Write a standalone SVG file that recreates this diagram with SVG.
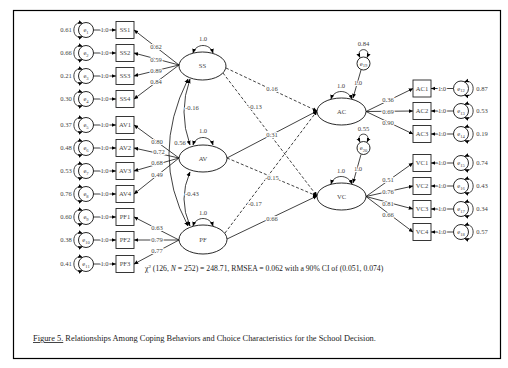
<svg xmlns="http://www.w3.org/2000/svg" width="508" height="368" viewBox="0 0 508 368">
<style>
.t{font-family:"Liberation Serif",serif;font-size:6.6px;fill:#444;text-anchor:middle}
.h{stroke:#fff;stroke-width:2.2px;paint-order:stroke;stroke-linejoin:round}
.ln{stroke:#111;stroke-width:0.8;fill:none}
.da{stroke-dasharray:3,2}
.bx{fill:#fff;stroke:#222;stroke-width:0.9}
.el{fill:#fff;stroke:#111;stroke-width:0.9}
.sub{font-size:4.6px}
</style>
<defs>
<marker id="a" viewBox="0 0 8 8" refX="7.5" refY="4" markerWidth="4.5" markerHeight="4.5" orient="auto-start-reverse" markerUnits="userSpaceOnUse">
<path d="M0,0.5 L8,4 L0,7.5 z" fill="#000"/>
</marker>
</defs>
<rect x="13.5" y="10.5" width="487" height="348" fill="#fff" stroke="#000" stroke-width="1.2"/>

<g id="connectors">
<path class="ln" marker-end="url(#a)" d="M179,65 L134,30"/>
<path class="ln" marker-end="url(#a)" d="M179,65 L134,53"/>
<path class="ln" marker-end="url(#a)" d="M179,65 L134,76"/>
<path class="ln" marker-end="url(#a)" d="M179,65 L134,99"/>
<path class="ln" marker-end="url(#a)" d="M179,158 L134,125"/>
<path class="ln" marker-end="url(#a)" d="M179,158 L134,148"/>
<path class="ln" marker-end="url(#a)" d="M179,158 L134,171"/>
<path class="ln" marker-end="url(#a)" d="M179,158 L134,194"/>
<path class="ln" marker-end="url(#a)" d="M179,240 L134,217"/>
<path class="ln" marker-end="url(#a)" d="M179,240 L134,240"/>
<path class="ln" marker-end="url(#a)" d="M179,240 L134,264"/>
<path class="ln" marker-end="url(#a)" d="M366,111.5 L413,88.5"/>
<path class="ln" marker-end="url(#a)" d="M366,111.5 L413,111"/>
<path class="ln" marker-end="url(#a)" d="M366,111.5 L413,134"/>
<path class="ln" marker-end="url(#a)" d="M366,196.5 L413,163"/>
<path class="ln" marker-end="url(#a)" d="M366,196.5 L413,186"/>
<path class="ln" marker-end="url(#a)" d="M366,196.5 L413,209"/>
<path class="ln" marker-end="url(#a)" d="M366,196.5 L413,232"/>
<path class="ln da" marker-end="url(#a)" d="M226,68 L317,111"/>
<path class="ln da" marker-end="url(#a)" d="M223,73 L317,196"/>
<path class="ln" marker-end="url(#a)" d="M227,158 L317,111"/>
<path class="ln da" marker-end="url(#a)" d="M227,158 L317,196"/>
<path class="ln da" marker-end="url(#a)" d="M225,233 L317,111"/>
<path class="ln" marker-end="url(#a)" d="M227,239 L317,196"/>
<path class="ln" marker-start="url(#a)" marker-end="url(#a)" d="M190,79 Q178,112 190,145"/>
<path class="ln" marker-start="url(#a)" marker-end="url(#a)" d="M188,79 Q150,155 188,226"/>
<path class="ln" marker-start="url(#a)" marker-end="url(#a)" d="M190,172 Q178,199 190,226"/>
<path class="ln" marker-start="url(#a)" marker-end="url(#a)" d="M193,53 C196,43 210,43 213,53"/>
<path class="ln" marker-start="url(#a)" marker-end="url(#a)" d="M193,145 C196,135 210,135 213,145"/>
<path class="ln" marker-start="url(#a)" marker-end="url(#a)" d="M193,226 C196,216 210,216 213,226"/>
<path class="ln" marker-start="url(#a)" marker-end="url(#a)" d="M331,99 C334,89 348,89 352,99"/>
<path class="ln" marker-start="url(#a)" marker-end="url(#a)" d="M331,184 C334,174 348,174 352,184"/>
<path class="ln" marker-end="url(#a)" d="M361,70 L353,98"/>
<path class="ln" marker-end="url(#a)" d="M361,154.5 L353,183"/>
</g>

<g id="path-labels">
<text class="t h" x="156" y="49">0.62</text>
<text class="t h" x="156" y="61.5">0.59</text>
<text class="t h" x="156" y="73">0.89</text>
<text class="t h" x="156" y="84">0.84</text>
<text class="t h" x="157" y="143.5">0.80</text>
<text class="t h" x="159" y="154">0.72</text>
<text class="t h" x="157" y="165">0.68</text>
<text class="t h" x="157" y="177">0.49</text>
<text class="t h" x="157" y="230">0.63</text>
<text class="t h" x="157" y="242">0.79</text>
<text class="t h" x="157" y="253">0.77</text>
<text class="t h" x="388" y="101.5">0.36</text>
<text class="t h" x="388" y="114">0.69</text>
<text class="t h" x="388" y="124.5">0.90</text>
<text class="t h" x="388" y="182">0.51</text>
<text class="t h" x="388" y="193.5">0.76</text>
<text class="t h" x="388" y="206">0.81</text>
<text class="t h" x="388" y="216.5">0.66</text>
<text class="t h" x="272" y="90.5">0.16</text>
<text class="t h" x="255" y="108.5">-0.13</text>
<text class="t h" x="272" y="136.5">0.31</text>
<text class="t h" x="272" y="179.5">-0.15</text>
<text class="t h" x="255" y="205.5">-0.17</text>
<text class="t h" x="272" y="220.5">0.66</text>
<text class="t h" x="192" y="109.5">-0.16</text>
<text class="t h" x="180" y="144.5">0.56</text>
<text class="t h" x="192" y="195.5">-0.43</text>
<text class="t" x="203" y="41">1.0</text>
<text class="t" x="203" y="133">1.0</text>
<text class="t" x="203" y="215">1.0</text>
<text class="t" x="341" y="88">1.0</text>
<text class="t" x="341" y="173">1.0</text>
<text class="t h" x="358" y="85">1.0</text>
<text class="t h" x="358" y="171">1.0</text>
</g>

<g id="SS"><ellipse class="el" cx="202.5" cy="66" rx="23.5" ry="14"/><text class="t" x="202.5" y="68.3">SS</text></g>
<g id="AV"><ellipse class="el" cx="203" cy="158.5" rx="24" ry="13.5"/><text class="t" x="203" y="160.8">AV</text></g>
<g id="PF"><ellipse class="el" cx="203" cy="239.5" rx="24" ry="14.5"/><text class="t" x="203" y="241.8">PF</text></g>
<g id="AC"><ellipse class="el" cx="341.5" cy="111.5" rx="24.5" ry="13.5"/><text class="t" x="341.5" y="113.8">AC</text></g>
<g id="VC"><ellipse class="el" cx="341.5" cy="196.5" rx="24.5" ry="13.5"/><text class="t" x="341.5" y="198.8">VC</text></g>

<g id="e19">
<path class="ln" marker-start="url(#a)" marker-end="url(#a)" d="M360,57.5 C355,47 372,47 367,57.5"/>
<circle class="el" cx="363.5" cy="63.5" r="6.5"/>
<text class="t" x="363.5" y="65.5">e<tspan class="sub" dy="1.5">19</tspan></text>
<text class="t" x="363.5" y="46">0.84</text>
</g>
<g id="e20">
<path class="ln" marker-start="url(#a)" marker-end="url(#a)" d="M360,142 C355,131.5 372,131.5 367,142"/>
<circle class="el" cx="363.5" cy="148" r="6.5"/>
<text class="t" x="363.5" y="150">e<tspan class="sub" dy="1.5">20</tspan></text>
<text class="t" x="363.5" y="131">0.55</text>
</g>

<g id="SS1"><text class="t" x="66" y="32.3">0.61</text><path class="ln" marker-start="url(#a)" marker-end="url(#a)" d="M82.5,23.5 C71,19 71,41 82.5,36.5"/><circle class="el" cx="86" cy="30" r="7.5"/><text class="t" x="86" y="32">e<tspan class="sub" dy="1.5">1</tspan></text><path class="ln" marker-end="url(#a)" d="M93.5,30 L116,30"/><text class="t h" x="104.5" y="32.3">1.0</text><rect class="bx" x="116" y="21.5" width="18" height="17"/><text class="t" x="125" y="32.3">SS1</text></g>
<g id="SS2"><text class="t" x="66" y="55.3">0.66</text><path class="ln" marker-start="url(#a)" marker-end="url(#a)" d="M82.5,46.5 C71,42 71,64 82.5,59.5"/><circle class="el" cx="86" cy="53" r="7.5"/><text class="t" x="86" y="55">e<tspan class="sub" dy="1.5">2</tspan></text><path class="ln" marker-end="url(#a)" d="M93.5,53 L116,53"/><text class="t h" x="104.5" y="55.3">1.0</text><rect class="bx" x="116" y="44.5" width="18" height="17"/><text class="t" x="125" y="55.3">SS2</text></g>
<g id="SS3"><text class="t" x="66" y="78.3">0.21</text><path class="ln" marker-start="url(#a)" marker-end="url(#a)" d="M82.5,69.5 C71,65 71,87 82.5,82.5"/><circle class="el" cx="86" cy="76" r="7.5"/><text class="t" x="86" y="78">e<tspan class="sub" dy="1.5">3</tspan></text><path class="ln" marker-end="url(#a)" d="M93.5,76 L116,76"/><text class="t h" x="104.5" y="78.3">1.0</text><rect class="bx" x="116" y="67.5" width="18" height="17"/><text class="t" x="125" y="78.3">SS3</text></g>
<g id="SS4"><text class="t" x="66" y="101.3">0.30</text><path class="ln" marker-start="url(#a)" marker-end="url(#a)" d="M82.5,92.5 C71,88 71,110 82.5,105.5"/><circle class="el" cx="86" cy="99" r="7.5"/><text class="t" x="86" y="101">e<tspan class="sub" dy="1.5">4</tspan></text><path class="ln" marker-end="url(#a)" d="M93.5,99 L116,99"/><text class="t h" x="104.5" y="101.3">1.0</text><rect class="bx" x="116" y="90.5" width="18" height="17"/><text class="t" x="125" y="101.3">SS4</text></g>
<g id="AV1"><text class="t" x="66" y="127.3">0.37</text><path class="ln" marker-start="url(#a)" marker-end="url(#a)" d="M82.5,118.5 C71,114 71,136 82.5,131.5"/><circle class="el" cx="86" cy="125" r="7.5"/><text class="t" x="86" y="127">e<tspan class="sub" dy="1.5">5</tspan></text><path class="ln" marker-end="url(#a)" d="M93.5,125 L116,125"/><text class="t h" x="104.5" y="127.3">1.0</text><rect class="bx" x="116" y="116.5" width="18" height="17"/><text class="t" x="125" y="127.3">AV1</text></g>
<g id="AV2"><text class="t" x="66" y="150.3">0.48</text><path class="ln" marker-start="url(#a)" marker-end="url(#a)" d="M82.5,141.5 C71,137 71,159 82.5,154.5"/><circle class="el" cx="86" cy="148" r="7.5"/><text class="t" x="86" y="150">e<tspan class="sub" dy="1.5">6</tspan></text><path class="ln" marker-end="url(#a)" d="M93.5,148 L116,148"/><text class="t h" x="104.5" y="150.3">1.0</text><rect class="bx" x="116" y="139.5" width="18" height="17"/><text class="t" x="125" y="150.3">AV2</text></g>
<g id="AV3"><text class="t" x="66" y="173.3">0.53</text><path class="ln" marker-start="url(#a)" marker-end="url(#a)" d="M82.5,164.5 C71,160 71,182 82.5,177.5"/><circle class="el" cx="86" cy="171" r="7.5"/><text class="t" x="86" y="173">e<tspan class="sub" dy="1.5">7</tspan></text><path class="ln" marker-end="url(#a)" d="M93.5,171 L116,171"/><text class="t h" x="104.5" y="173.3">1.0</text><rect class="bx" x="116" y="162.5" width="18" height="17"/><text class="t" x="125" y="173.3">AV3</text></g>
<g id="AV4"><text class="t" x="66" y="196.3">0.76</text><path class="ln" marker-start="url(#a)" marker-end="url(#a)" d="M82.5,187.5 C71,183 71,205 82.5,200.5"/><circle class="el" cx="86" cy="194" r="7.5"/><text class="t" x="86" y="196">e<tspan class="sub" dy="1.5">8</tspan></text><path class="ln" marker-end="url(#a)" d="M93.5,194 L116,194"/><text class="t h" x="104.5" y="196.3">1.0</text><rect class="bx" x="116" y="185.5" width="18" height="17"/><text class="t" x="125" y="196.3">AV4</text></g>
<g id="PF1"><text class="t" x="66" y="219.3">0.60</text><path class="ln" marker-start="url(#a)" marker-end="url(#a)" d="M82.5,210.5 C71,206 71,228 82.5,223.5"/><circle class="el" cx="86" cy="217" r="7.5"/><text class="t" x="86" y="219">e<tspan class="sub" dy="1.5">9</tspan></text><path class="ln" marker-end="url(#a)" d="M93.5,217 L116,217"/><text class="t h" x="104.5" y="219.3">1.0</text><rect class="bx" x="116" y="208.5" width="18" height="17"/><text class="t" x="125" y="219.3">PF1</text></g>
<g id="PF2"><text class="t" x="66" y="242.3">0.38</text><path class="ln" marker-start="url(#a)" marker-end="url(#a)" d="M82.5,233.5 C71,229 71,251 82.5,246.5"/><circle class="el" cx="86" cy="240" r="7.5"/><text class="t" x="86" y="242">e<tspan class="sub" dy="1.5">10</tspan></text><path class="ln" marker-end="url(#a)" d="M93.5,240 L116,240"/><text class="t h" x="104.5" y="242.3">1.0</text><rect class="bx" x="116" y="231.5" width="18" height="17"/><text class="t" x="125" y="242.3">PF2</text></g>
<g id="PF3"><text class="t" x="66" y="266.3">0.41</text><path class="ln" marker-start="url(#a)" marker-end="url(#a)" d="M82.5,257.5 C71,253 71,275 82.5,270.5"/><circle class="el" cx="86" cy="264" r="7.5"/><text class="t" x="86" y="266">e<tspan class="sub" dy="1.5">11</tspan></text><path class="ln" marker-end="url(#a)" d="M93.5,264 L116,264"/><text class="t h" x="104.5" y="266.3">1.0</text><rect class="bx" x="116" y="255.5" width="18" height="17"/><text class="t" x="125" y="266.3">PF3</text></g>

<g id="AC1"><rect class="bx" x="413" y="80" width="18" height="17"/><text class="t" x="422" y="90.8">AC1</text><path class="ln" marker-end="url(#a)" d="M453.5,88.5 L431,88.5"/><text class="t h" x="442" y="90.8">1.0</text><circle class="el" cx="461" cy="88.5" r="7.5"/><text class="t" x="461" y="90.5">e<tspan class="sub" dy="1.5">12</tspan></text><path class="ln" marker-start="url(#a)" marker-end="url(#a)" d="M464.5,82 C476,77.5 476,99.5 464.5,95"/><text class="t" x="482" y="90.8">0.87</text></g>
<g id="AC2"><rect class="bx" x="413" y="102.5" width="18" height="17"/><text class="t" x="422" y="113.3">AC2</text><path class="ln" marker-end="url(#a)" d="M453.5,111 L431,111"/><text class="t h" x="442" y="113.3">1.0</text><circle class="el" cx="461" cy="111" r="7.5"/><text class="t" x="461" y="113">e<tspan class="sub" dy="1.5">13</tspan></text><path class="ln" marker-start="url(#a)" marker-end="url(#a)" d="M464.5,104.5 C476,100 476,122 464.5,117.5"/><text class="t" x="482" y="113.3">0.53</text></g>
<g id="AC3"><rect class="bx" x="413" y="125.5" width="18" height="17"/><text class="t" x="422" y="136.3">AC3</text><path class="ln" marker-end="url(#a)" d="M453.5,134 L431,134"/><text class="t h" x="442" y="136.3">1.0</text><circle class="el" cx="461" cy="134" r="7.5"/><text class="t" x="461" y="136">e<tspan class="sub" dy="1.5">14</tspan></text><path class="ln" marker-start="url(#a)" marker-end="url(#a)" d="M464.5,127.5 C476,123 476,145 464.5,140.5"/><text class="t" x="482" y="136.3">0.19</text></g>
<g id="VC1"><rect class="bx" x="413" y="154.5" width="18" height="17"/><text class="t" x="422" y="165.3">VC1</text><path class="ln" marker-end="url(#a)" d="M453.5,163 L431,163"/><text class="t h" x="442" y="165.3">1.0</text><circle class="el" cx="461" cy="163" r="7.5"/><text class="t" x="461" y="165">e<tspan class="sub" dy="1.5">15</tspan></text><path class="ln" marker-start="url(#a)" marker-end="url(#a)" d="M464.5,156.5 C476,152 476,174 464.5,169.5"/><text class="t" x="482" y="165.3">0.74</text></g>
<g id="VC2"><rect class="bx" x="413" y="177.5" width="18" height="17"/><text class="t" x="422" y="188.3">VC2</text><path class="ln" marker-end="url(#a)" d="M453.5,186 L431,186"/><text class="t h" x="442" y="188.3">1.0</text><circle class="el" cx="461" cy="186" r="7.5"/><text class="t" x="461" y="188">e<tspan class="sub" dy="1.5">16</tspan></text><path class="ln" marker-start="url(#a)" marker-end="url(#a)" d="M464.5,179.5 C476,175 476,197 464.5,192.5"/><text class="t" x="482" y="188.3">0.43</text></g>
<g id="VC3"><rect class="bx" x="413" y="200.5" width="18" height="17"/><text class="t" x="422" y="211.3">VC3</text><path class="ln" marker-end="url(#a)" d="M453.5,209 L431,209"/><text class="t h" x="442" y="211.3">1.0</text><circle class="el" cx="461" cy="209" r="7.5"/><text class="t" x="461" y="211">e<tspan class="sub" dy="1.5">17</tspan></text><path class="ln" marker-start="url(#a)" marker-end="url(#a)" d="M464.5,202.5 C476,198 476,220 464.5,215.5"/><text class="t" x="482" y="211.3">0.34</text></g>
<g id="VC4"><rect class="bx" x="413" y="223.5" width="18" height="17"/><text class="t" x="422" y="234.3">VC4</text><path class="ln" marker-end="url(#a)" d="M453.5,232 L431,232"/><text class="t h" x="442" y="234.3">1.0</text><circle class="el" cx="461" cy="232" r="7.5"/><text class="t" x="461" y="234">e<tspan class="sub" dy="1.5">18</tspan></text><path class="ln" marker-start="url(#a)" marker-end="url(#a)" d="M464.5,225.5 C476,221 476,243 464.5,238.5"/><text class="t" x="482" y="234.3">0.57</text></g>

<text x="145" y="271" style="font-family:'Liberation Serif',serif;font-size:7.7px;fill:#222">χ<tspan font-size="5" dy="-3">2</tspan><tspan dy="3"> (126, </tspan><tspan font-style="italic">N</tspan> = 252) = 248.71, RMSEA = 0.062 with a 90% CI of  (0.051, 0.074)</text>
<text x="33" y="341" style="font-family:'Liberation Serif',serif;font-size:8.4px;fill:#222"><tspan text-decoration="underline">Figure 5.</tspan> Relationships Among Coping Behaviors and Choice Characteristics for the School Decision.</text>
</svg>
